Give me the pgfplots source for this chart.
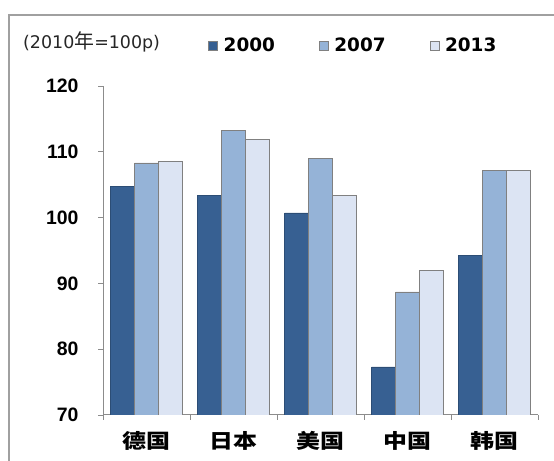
\documentclass[border=0pt]{standalone}
\usepackage{fontspec}
\usepackage{graphicx}
\usepackage{pgfplots}
\pgfplotsset{compat=1.18}
\setmainfont{Liberation Sans}
\newfontfamily\dejavu{DejaVu Sans}
\newfontfamily\cjk{Noto Sans CJK SC}
\definecolor{c2000}{HTML}{376092}
\definecolor{c2007}{HTML}{95B3D7}
\definecolor{c2013}{HTML}{DCE4F3}
\definecolor{frame}{HTML}{A0A0A0}
\begin{document}
\begin{tikzpicture}[x=1bp,y=1bp]
\useasboundingbox (0,0) rectangle (554,461);
\draw[frame, line width=1.3bp] (9,0) -- (9,446) -- (554,446);
\node[anchor=west, inner sep=0pt, font=\dejavu\fontsize{17.5}{17.5}\selectfont, text=black!85] at (23,419) {(2010{\cjk\fontsize{20}{20}\selectfont 年}=100p)};
\begin{axis}[
    at={(103bp,46bp)},
    anchor=south west,
    scale only axis,
    width=435bp, height=329bp,
    xmin=-0.5, xmax=4.5,
    ymin=70, ymax=120,
    ytick={70,80,...,120},
    xtick={0,...,4},
    xticklabels={\scalebox{1.2}[1]{德国},\scalebox{1.2}[1]{日本},\scalebox{1.2}[1]{美国},\scalebox{1.2}[1]{中国},\scalebox{1.2}[1]{韩国}},
    minor xtick={-0.5,0.5,...,4.5},
    major x tick style={draw=none},
    axis lines*=left,
    axis line style={gray!90, line width=1bp},
    tick style={gray!90, line width=0.8bp},
    tick align=outside,
    major tick length=5bp, minor tick length=5bp,
    ybar=0pt, bar width=24bp,
    /pgf/number format/assume math mode=true,
    yticklabel style={font=\bfseries\fontsize{19.5}{19.5}\selectfont, xshift=-16bp},
    xticklabel style={font=\cjk\bfseries\fontsize{20}{20}\selectfont, yshift=-8bp},
    legend columns=3,
    legend style={at={(0.235,1.122)}, anchor=west, draw=none, fill=none,
        font=\dejavu\bfseries\fontsize{18.5}{18.5}\selectfont,
        /tikz/every even column/.append style={column sep=42bp}},
    legend image code/.code={\draw[#1, draw=gray] (0bp,-4.5bp) rectangle (9bp,4.5bp);
        \path[draw=none, fill=none] (0bp,0bp) rectangle (13bp,0.1bp);},
]
\addplot[fill=c2000, draw=c2000!80!black, line width=0.6bp] coordinates {(0,104.8) (1,103.4) (2,100.7) (3,77.3) (4,94.3)};
\addplot[fill=c2007, draw=gray, line width=0.8bp] coordinates {(0,108.3) (1,113.3) (2,109.0) (3,88.7) (4,107.2)};
\addplot[fill=c2013, draw=gray, line width=0.8bp] coordinates {(0,108.6) (1,111.9) (2,103.3) (3,91.9) (4,107.1)};
\legend{2000,2007,2013}
\end{axis}
\end{tikzpicture}
\end{document}
